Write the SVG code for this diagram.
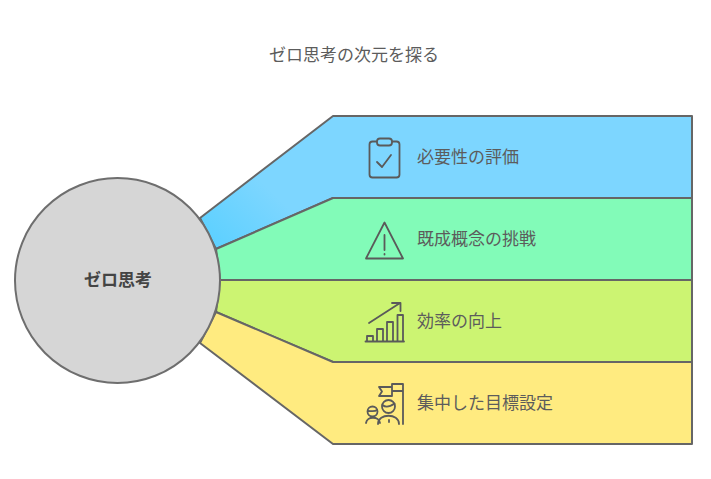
<svg xmlns="http://www.w3.org/2000/svg" width="711" height="479" viewBox="0 0 711 479">
<style>
text{font-family:"Noto Sans CJK JP","Liberation Sans",sans-serif;font-size:17px;fill:#5c5c5c}
.b{fill-rule:evenodd;stroke:#666;stroke-width:2;stroke-linejoin:round}
.i{fill:none;stroke:#5a5a5a;stroke-width:1.8;stroke-linecap:round;stroke-linejoin:round}
</style>
<defs>
<linearGradient id="bl" gradientUnits="userSpaceOnUse" x1="215" y1="248" x2="270" y2="190">
<stop offset="0" stop-color="#5cd0ff"/><stop offset="1" stop-color="#7dd6ff"/>
</linearGradient>
</defs>
<rect width="711" height="479" fill="#fff"/>
<text id="title" x="354" y="61" text-anchor="middle">ゼロ思考の次元を探る</text>
<g id="connectors">
<path class="b" fill="url(#bl)" d="M200 218L333 116H692V198H333L216 249Z"/>
<path class="b" fill="#82fbb8" d="M216 249L333 198H692V280H220Z"/>
<path class="b" fill="#ccf472" d="M220 280H692V362H333L216 312Z"/>
<path class="b" fill="#ffeb80" d="M216 312L333 362H692V444H333L200 343Z"/>
</g>
<g id="center"><circle cx="117.500" cy="280.500" r="102.500" fill="#d6d6d6" stroke="#6e6e6e" stroke-width="2"/>
<text x="118" y="286" text-anchor="middle" font-weight="700" style="fill:#444">ゼロ思考</text></g>
<g id="n1">
<rect class="i" x="369.500" y="141.500" width="30" height="36" rx="3"/>
<rect class="i" x="377" y="138.500" width="15" height="7" rx="3" style="fill:#7dd6ff"/>
<path class="i" d="M377 162L382 167L391 155"/>
<text x="417" y="163">必要性の評価</text></g>
<g id="n2">
<path class="i" d="M384.500 222.500L403 258.500H366Z"/>
<path class="i" d="M384.500 235V250M384.500 254V254.500"/>
<text x="417" y="245">既成概念の挑戦</text></g>
<g id="n3">
<path class="i" d="M369 323L400 303M392 303H400.500V311"/>
<path class="i" d="M365.500 341.500H404M367 341.500V336H373V341.500M377 341.500V329H383V341.500M387 341.500V322H393V341.500M397.500 341.500V315H403V341.500"/>
<text x="417" y="327">効率の向上</text></g>
<g id="n4">
<path class="i" d="M392 391V384H403V424M392 391H403M392 387H379L382 391.500L379 396H392V391"/>
<circle class="i" cx="388.500" cy="406.500" r="6.500"/>
<path class="i" d="M378 424C378 413 399 413 399 424M382.500 405C386 408 391 406 394.500 403.500M389 420V422"/>
<circle class="i" cx="372.500" cy="411.500" r="5"/>
<path class="i" d="M366 423C367 416 379 416 380 423M368 411C371 411 375 412 377 410"/>
<text x="417" y="409">集中した目標設定</text></g>
</svg>
